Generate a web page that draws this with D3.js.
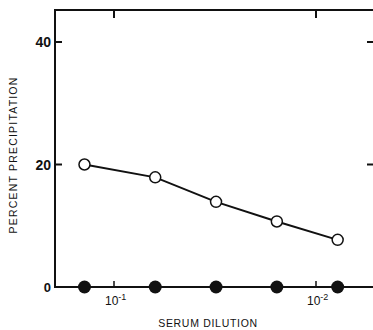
<!DOCTYPE html>
<html lang="en">
  <head>
    <meta charset="UTF-8">
    <script src="https://d3js.org/d3.v7.min.js"></script>
    <title>Serum dilution</title>
    <style>
      body { margin: 0; background: #fff; }
      text { font-family: "Liberation Sans", Arial, sans-serif; fill: #111; }
    </style>
  </head>
  <body>
    <div id="chart"></div>
    <script>
      // данные
      const dilutions = [0.14, 1 / 16, 1 / 32, 1 / 64, 1 / 128];
      const openValues = [20.0, 17.9, 13.9, 10.7, 7.7];
      const filledValues = [0, 0, 0, 0, 0];
      const yTicks = [0, 20, 40];
      const xTicks = [1e-1, 1e-2];
      const xTickExp = ["-1", "-2"];

      const width = 373, height = 330;
      const mLeft = 55, mRight = 373, mTop = 10, mBottom = 287;

      const svg = d3.select("#chart").append("svg")
        .attr("width", width).attr("height", height);

      // логарифмическая шкала, разведение убывает вправо
      const x = d3.scaleLog()
        .domain([Math.pow(10, -1 + (114 - mLeft) / 202), Math.pow(10, -1 - (mRight - 114) / 202)])
        .range([mLeft, mRight]);
      const y = d3.scaleLinear().domain([0, 40]).range([mBottom, 42]);

      const ink = "#111";

      // рамка: левая, нижняя, верхняя
      svg.append("path")
        .attr("d", `M${mRight},${mTop}H${mLeft}V${mBottom}H${mRight}`)
        .attr("fill", "none").attr("stroke", ink).attr("stroke-width", 2);

      // деления по Y слева и справа (внутрь)
      yTicks.filter(d => d > 0).forEach(d => {
        svg.append("line").attr("x1", mLeft).attr("x2", mLeft + 7)
          .attr("y1", y(d)).attr("y2", y(d)).attr("stroke", ink).attr("stroke-width", 2);
        svg.append("line").attr("x1", mRight - 6).attr("x2", mRight)
          .attr("y1", y(d)).attr("y2", y(d)).attr("stroke", ink).attr("stroke-width", 2);
      });
      svg.selectAll(".ylab").data(yTicks).enter().append("text")
        .attr("x", mLeft - 4).attr("y", d => y(d) + 5)
        .attr("text-anchor", "end")
        .attr("font-size", d => d === 0 ? 13 : 14).attr("font-weight", "bold")
        .text(d => d);

      // деления по X снизу и сверху
      xTicks.forEach(d => {
        svg.append("line").attr("x1", x(d)).attr("x2", x(d))
          .attr("y1", mBottom).attr("y2", mBottom - 6).attr("stroke", ink).attr("stroke-width", 1.5);
        svg.append("line").attr("x1", x(d)).attr("x2", x(d))
          .attr("y1", mTop).attr("y2", mTop + 8).attr("stroke", ink).attr("stroke-width", 2);
      });
      const xl = svg.selectAll(".xlab").data(xTicks).enter().append("text")
        .attr("x", d => x(d) - 9).attr("y", 305)
        .attr("font-size", 12);
      xl.append("tspan").text("10");
      xl.append("tspan").attr("dy", -5).attr("font-size", 9).text((d, i) => xTickExp[i]);

      // линия данных
      const line = d3.line().x((d, i) => x(dilutions[i])).y(d => y(d));
      svg.append("path").datum(openValues)
        .attr("d", line).attr("fill", "none").attr("stroke", ink).attr("stroke-width", 2);

      svg.selectAll(".open").data(openValues).enter().append("circle")
        .attr("cx", (d, i) => x(dilutions[i])).attr("cy", d => y(d)).attr("r", 5.5)
        .attr("fill", "#fff").attr("stroke", ink).attr("stroke-width", 1.5);

      svg.selectAll(".filled").data(filledValues).enter().append("circle")
        .attr("cx", (d, i) => x(dilutions[i])).attr("cy", d => y(d)).attr("r", 6.5)
        .attr("fill", ink);

      // подписи осей
      svg.append("text").attr("x", 208).attr("y", 327)
        .attr("text-anchor", "middle").attr("font-size", 10.5).attr("letter-spacing", 0.7)
        .text("SERUM DILUTION");
      svg.append("text").attr("transform", "translate(17,155) rotate(-90)")
        .attr("text-anchor", "middle").attr("font-size", 10.5).attr("letter-spacing", 1.2)
        .text("PERCENT PRECIPITATION");
    </script>
  </body>
</html>
